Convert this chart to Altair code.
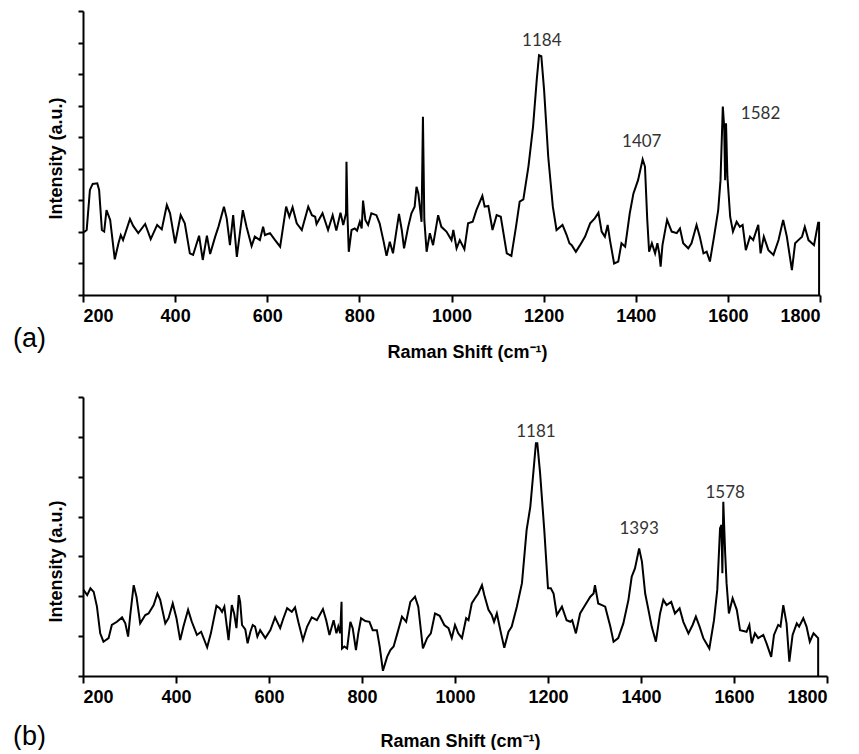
import altair as alt
import pandas as pd

# ---------------- data ----------------
top_shift = [202, 208, 215, 221, 231, 235, 241, 246, 251, 259, 269, 277, 282, 287, 302, 309, 320, 335,
             347, 361, 371, 382, 389, 400, 412, 421, 432, 439, 452, 460, 469, 476, 487, 494, 506, 512,
             519, 526, 534, 547, 555, 566, 573, 584, 591, 595, 606, 617, 628, 641, 648, 655, 664, 675,
             689, 697, 704, 707, 720, 732, 742, 750, 759, 765, 771, 772, 774, 777, 783, 790, 795, 801,
             805, 808, 813, 819, 826, 837, 844, 852, 859, 866, 873, 886, 892, 897, 906, 913, 920, 924,
             928, 935, 938, 941, 946, 953, 960, 971, 978, 989, 1000, 1004, 1011, 1018, 1028, 1036, 1046,
             1054, 1067, 1072, 1080, 1089, 1098, 1107, 1120, 1130, 1140, 1148, 1156, 1167, 1177, 1185,
             1190, 1195, 1201, 1210, 1220, 1228, 1241, 1250, 1256, 1261, 1270, 1279, 1290, 1301, 1311,
             1319, 1326, 1333, 1339, 1344, 1353, 1362, 1369, 1377, 1387, 1395, 1405, 1415, 1420, 1425,
             1429, 1435, 1442, 1447, 1451, 1454, 1458, 1468, 1478, 1489, 1496, 1503, 1514, 1521, 1532,
             1539, 1547, 1554, 1561, 1570, 1579, 1584, 1589, 1592, 1594, 1596, 1599, 1605, 1611, 1619,
             1626, 1632, 1639, 1648, 1655, 1661, 1666, 1671, 1678, 1688, 1699, 1710, 1720, 1728, 1739,
             1746, 1753, 1761, 1767, 1775, 1787, 1796, 1798, 1798]
top_intensity = [1.99, 2.06, 3.33, 3.52, 3.54, 3.33, 2.06, 2.01, 2.69, 2.38, 1.13, 1.64, 1.90, 1.74, 2.41,
                 2.19, 1.96, 2.25, 1.77, 2.22, 2.08, 2.85, 2.59, 1.64, 2.53, 2.27, 1.32, 1.27, 1.88, 1.11,
                 1.88, 1.30, 1.85, 2.16, 2.80, 2.43, 1.58, 2.53, 1.21, 2.69, 2.16, 1.55, 1.85, 1.74, 2.16,
                 1.90, 1.96, 1.74, 1.53, 2.80, 2.48, 2.78, 2.27, 2.06, 2.80, 2.53, 2.48, 2.25, 2.59, 2.06,
                 2.53, 2.04, 2.61, 2.22, 2.59, 4.22, 2.60, 1.37, 2.06, 2.11, 2.04, 2.32, 2.11, 2.99, 2.38,
                 2.22, 2.59, 2.53, 2.27, 1.74, 1.24, 1.69, 1.32, 2.57, 2.06, 1.48, 2.16, 2.59, 2.80, 3.43,
                 3.22, 2.32, 5.65, 2.38, 1.37, 1.96, 1.58, 2.53, 2.16, 2.01, 1.74, 2.06, 1.48, 1.74, 1.45,
                 2.27, 2.32, 2.69, 3.14, 2.80, 2.82, 2.06, 2.53, 2.48, 1.32, 1.24, 2.16, 2.96, 3.03, 4.07,
                 5.33, 6.81, 7.60, 7.57, 6.50, 4.38, 2.80, 2.06, 2.22, 1.90, 1.64, 1.58, 1.37, 1.58, 1.85,
                 2.27, 2.43, 2.61, 2.01, 1.85, 2.22, 1.74, 1.00, 1.06, 1.64, 1.53, 2.59, 3.22, 3.64, 4.30,
                 4.07, 2.38, 1.37, 1.64, 1.32, 1.64, 1.32, 0.90, 1.58, 2.38, 2.01, 1.96, 2.11, 1.64, 1.48,
                 1.64, 2.22, 1.85, 1.32, 1.37, 1.06, 1.85, 2.69, 3.64, 5.97, 5.33, 3.64, 5.44, 3.75, 2.48,
                 2.01, 2.32, 2.16, 2.22, 1.42, 1.85, 1.74, 2.01, 2.22, 1.32, 1.85, 1.42, 1.27, 1.74, 2.38,
                 1.85, 0.79, 1.64, 1.74, 1.85, 2.16, 1.74, 1.58, 2.29, 2.29, 0.0]

bottom_shift = [201, 209, 216, 223, 230, 237, 244, 255, 262, 273, 284, 291, 297, 302, 309, 315, 323, 334,
                341, 352, 360, 366, 377, 384, 393, 401, 409, 416, 426, 434, 445, 454, 467, 475, 487, 494,
                499, 504, 513, 520, 525, 530, 535, 538, 542, 549, 554, 560, 565, 570, 575, 581, 592, 603,
                613, 624, 631, 639, 649, 656, 663, 673, 682, 692, 703, 716, 723, 730, 739, 745, 749, 753,
                756, 757, 762, 768, 775, 780, 787, 792, 798, 807, 816, 823, 832, 838, 845, 854, 861, 868,
                876, 886, 895, 904, 914, 921, 931, 940, 948, 957, 967, 977, 986, 993, 1000, 1007, 1015,
                1024, 1029, 1036, 1043, 1050, 1058, 1063, 1072, 1079, 1084, 1090, 1099, 1106, 1115, 1122,
                1133, 1144, 1154, 1162, 1169, 1174, 1177, 1183, 1192, 1200, 1206, 1212, 1219, 1230, 1240,
                1248, 1252, 1260, 1269, 1280, 1291, 1298, 1301, 1308, 1316, 1323, 1334, 1341, 1351, 1362,
                1373, 1380, 1387, 1396, 1402, 1409, 1416, 1423, 1432, 1441, 1448, 1455, 1465, 1473, 1483,
                1491, 1502, 1511, 1518, 1526, 1534, 1547, 1557, 1564, 1570, 1573, 1575, 1577, 1581, 1584,
                1589, 1597, 1606, 1613, 1627, 1633, 1638, 1645, 1652, 1663, 1670, 1680, 1686, 1695, 1700,
                1706, 1713, 1719, 1726, 1735, 1740, 1749, 1756, 1763, 1771, 1781, 1781]
bottom_intensity = [2.16, 2.03, 2.20, 2.11, 1.74, 1.07, 0.86, 0.95, 1.28, 1.36, 1.47, 1.32, 0.99, 1.57,
                    2.28, 1.99, 1.32, 1.53, 1.57, 1.78, 2.07, 1.91, 1.32, 1.45, 1.82, 1.45, 0.90, 1.24,
                    1.66, 1.36, 1.03, 1.11, 0.72, 1.07, 1.76, 1.70, 1.61, 1.74, 0.90, 1.78, 1.57, 1.20,
                    2.03, 1.86, 1.28, 1.17, 0.82, 1.11, 1.28, 1.24, 0.99, 1.15, 0.95, 1.15, 1.47, 1.20,
                    1.45, 1.70, 1.61, 1.72, 1.36, 0.90, 1.24, 1.47, 1.40, 1.68, 1.40, 1.03, 1.40, 1.07,
                    1.24, 1.07, 1.86, 0.69, 0.74, 0.69, 1.36, 1.20, 0.65, 1.07, 1.45, 1.38, 1.36, 1.15,
                    1.15, 0.74, 0.13, 0.48, 0.65, 0.74, 1.07, 1.49, 1.36, 1.86, 1.99, 1.74, 0.69, 0.95,
                    1.07, 1.57, 1.51, 1.28, 1.20, 0.95, 1.28, 1.07, 0.95, 1.45, 1.40, 1.82, 1.95, 2.07,
                    2.28, 2.03, 1.66, 1.53, 1.36, 1.57, 1.07, 0.71, 1.11, 1.24, 1.74, 2.33, 3.66, 4.25,
                    5.17, 5.84, 5.84, 5.09, 3.66, 2.20, 2.20, 2.07, 1.53, 1.74, 1.40, 1.36, 1.40, 1.07,
                    1.57, 1.78, 1.99, 2.07, 2.28, 1.82, 1.78, 1.74, 1.24, 0.86, 0.95, 1.32, 1.91, 2.49,
                    2.70, 3.20, 2.87, 2.07, 1.66, 1.24, 0.86, 1.57, 1.91, 1.78, 1.86, 1.57, 1.70, 1.36,
                    1.07, 1.28, 1.49, 1.24, 0.95, 0.69, 1.40, 2.16, 3.71, 3.79, 2.58, 4.37, 3.08, 2.33,
                    1.57, 1.95, 1.66, 1.15, 1.11, 1.28, 0.82, 1.07, 0.95, 1.03, 0.82, 0.48, 1.03, 1.28,
                    1.24, 1.78, 1.32, 0.36, 1.03, 1.32, 1.24, 1.45, 1.24, 0.86, 1.07, 0.95, 0.0]

top_peak_labels = ["1184", "1407", "1582"]
top_peak_x = [1196, 1413, 1671]
top_peak_y = [8.05, 4.86, 5.73]

bottom_peak_labels = ["1181", "1393", "1578"]
bottom_peak_x = [1174, 1396, 1581]
bottom_peak_y = [6.13, 3.70, 4.59]

x_ticks = [200, 400, 600, 800, 1000, 1200, 1400, 1600, 1800]
top_y_ticks = list(range(0, 10))
bottom_y_ticks = list(range(0, 8))

x_title = "Raman Shift (cm\u207b\u00b9)"
y_title = "Intensity (a.u.)"

AXIS_FONT = "Liberation Sans"


def panel(shift, inten, labels, lx, ly, ymax, yticks, width, height,
          letter, letter_y, xtitle_x, xtitle_y, ytitle_y):
    line_df = pd.DataFrame({"shift": shift, "intensity": inten})
    lab_df = pd.DataFrame({"shift": lx, "intensity": ly, "label": labels})

    x_enc = alt.X(
        "shift:Q",
        scale=alt.Scale(domain=[200, 1800], nice=False, zero=False),
        axis=alt.Axis(
            values=x_ticks, tickCount=40, title=x_title, format="d",
            labelFont=AXIS_FONT, labelFontWeight="bold", labelFontSize=18,
            labelColor="black", labelPadding=5, labelOverlap=False,
            tickSize=7, tickWidth=2, tickColor="black",
            domainWidth=2, domainColor="black", grid=False,
            titleFont=AXIS_FONT, titleFontWeight="bold", titleFontSize=18,
            titleColor="black", titleX=xtitle_x, titleY=xtitle_y,
            titleBaseline="middle", titleAlign="center",
        ),
    )
    y_enc = alt.Y(
        "intensity:Q",
        scale=alt.Scale(domain=[0, ymax], nice=False, zero=True),
        axis=alt.Axis(
            values=yticks, tickCount=40, labels=False, labelOverlap=False, title=y_title,
            tickSize=5, tickWidth=2, tickColor="black",
            domainWidth=2, domainColor="black", grid=False,
            titleFont=AXIS_FONT, titleFontWeight="bold", titleFontSize=18,
            titleColor="black", titleAngle=-90, titleX=-27, titleY=ytitle_y,
            titleBaseline="middle", titleAlign="center",
        ),
    )

    line = alt.Chart(line_df).mark_line(color="black", strokeWidth=2).encode(
        x=x_enc, y=y_enc, order=alt.Order("idx:Q")
    ).transform_window(idx="row_number()")

    txt = alt.Chart(lab_df).mark_text(
        font="Lato", fontSize=17, color="#333333", baseline="middle", align="center"
    ).encode(x="shift:Q", y="intensity:Q", text="label:N")

    letter_mark = alt.Chart(pd.DataFrame({"t": [letter]})).mark_text(
        font=AXIS_FONT, fontSize=27, color="black", align="left", baseline="middle"
    ).encode(x=alt.value(-70), y=alt.value(letter_y), text="t:N")

    return alt.layer(line, txt, letter_mark).properties(width=width, height=height)


top = panel(top_shift, top_intensity, top_peak_labels, top_peak_x, top_peak_y, 9, top_y_ticks,
            737, 284, "(a)", 328, 384, 57, 147)
bottom = panel(bottom_shift, bottom_intensity, bottom_peak_labels, bottom_peak_x, bottom_peak_y, 7,
               bottom_y_ticks, 744, 279, "(b)", 340, 377, 65, 164)

chart = alt.vconcat(top, bottom, spacing=102, bounds="flush").properties(
    padding={"left": 13, "top": 10, "right": 5, "bottom": 0},
    background="white",
).configure_view(stroke=None)

chart.save("out.html", embed_options={"renderer": "svg", "actions": False})
